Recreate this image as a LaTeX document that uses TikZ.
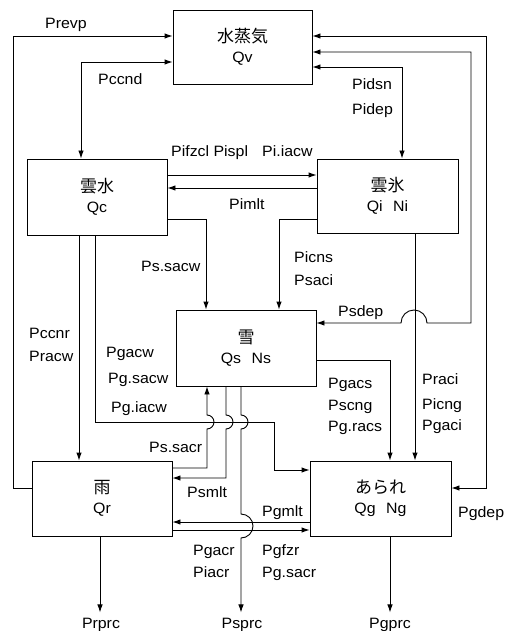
\documentclass[tikz,border=0pt]{standalone}
\usepackage{fontspec}
\setmainfont{Liberation Sans}[FakeStretch=1.06]
\newfontfamily\jp{Noto Sans CJK JP}
\usetikzlibrary{arrows.meta}
\begin{document}
\begin{tikzpicture}[x=1pt,y=-1pt,
  box/.style={draw, line width=0.9pt, inner sep=0pt, align=center, font=\fontsize{15}{20}\selectfont},
  lab/.style={inner sep=1pt, font=\fontsize{15}{18}\selectfont},
  conn/.style={line width=0.9pt},
  arr/.style={conn, -{Latex[length=8pt,width=5.5pt]}},
  darr/.style={conn, {Latex[length=8pt,width=5.5pt]}-{Latex[length=8pt,width=5.5pt]}},
  jpt/.style={}]
\useasboundingbox (0,0) rectangle (508,631);
% boxes
\node[box, minimum width=139pt, minimum height=74pt] (qv) at (242.5,47) {{\jp\fontsize{17}{20}\selectfont 水蒸気}\\Qv};
\node[box, minimum width=140pt, minimum height=76pt] (qc) at (97,197) {{\jp\fontsize{17}{20}\selectfont 雲水}\\Qc};
\node[box, minimum width=141pt, minimum height=74pt] (qi) at (387.5,196) {{\jp\fontsize{17}{20}\selectfont 雲氷}\\Qi\hspace{0.7em}Ni};
\node[box, minimum width=140pt, minimum height=76pt] (qs) at (246,348) {{\jp\fontsize{17}{20}\selectfont 雪}\\Qs\hspace{0.7em}Ns};
\node[box, minimum width=140pt, minimum height=75pt] (qr) at (102,498.5) {{\jp\fontsize{17}{20}\selectfont 雨}\\Qr};
\node[box, minimum width=141pt, minimum height=75pt] (qg) at (380.5,498.5) {{\jp\fontsize{17}{20}\selectfont あられ}\\Qg\hspace{0.7em}Ng};
% labels
\node[lab, anchor=base west] (lprevp) at (44,29) {Prevp};
\node[lab, anchor=base west] (lpccnd) at (97,85) {Pccnd};
\node[lab, anchor=base west] (lpidsn) at (351,90) {Pidsn};
\node[lab, anchor=base west] (lpidep) at (351,115) {Pidep};
\node[lab, anchor=base west] (lpifzc) at (170,157) {Pifzcl Pispl};
\node[lab, anchor=base west] (lpiiacw) at (261,157) {Pi.iacw};
\node[lab, anchor=base west] (lpimlt) at (228,209) {Pimlt};
\node[lab, anchor=base west] (lpssacw) at (140,271) {Ps.sacw};
\node[lab, anchor=base west] (lpicns) at (293,262) {Picns};
\node[lab, anchor=base west] (lpsaci) at (293,285) {Psaci};
\node[lab, anchor=base west] (lpsdep) at (337,316) {Psdep};
\node[lab, anchor=base west] (lpccnr) at (28,338) {Pccnr};
\node[lab, anchor=base west] (lpracw) at (28,361) {Pracw};
\node[lab, anchor=base west] (lpgacw) at (105,357) {Pgacw};
\node[lab, anchor=base west] (lpgsacw) at (107,383) {Pg.sacw};
\node[lab, anchor=base west] (lpgiacw) at (110,412) {Pg.iacw};
\node[lab, anchor=base west] (lpgacs) at (327,388) {Pgacs};
\node[lab, anchor=base west] (lpscng) at (327,410) {Pscng};
\node[lab, anchor=base west] (lpgracs) at (327,431) {Pg.racs};
\node[lab, anchor=base west] (lpraci) at (421,384) {Praci};
\node[lab, anchor=base west] (lpicng) at (421,409) {Picng};
\node[lab, anchor=base west] (lpgaci) at (421,430) {Pgaci};
\node[lab, anchor=base west] (lpssacr) at (148,452) {Ps.sacr};
\node[lab, anchor=base west] (lpsmlt) at (186,497) {Psmlt};
\node[lab, anchor=base west] (lpgmlt) at (261,516) {Pgmlt};
\node[lab, anchor=base west] (lpgdep) at (457,517) {Pgdep};
\node[lab, anchor=base west] (lpgacr) at (192,555) {Pgacr};
\node[lab, anchor=base west] (lpiacr) at (192,577) {Piacr};
\node[lab, anchor=base west] (lpgfzr) at (261,555) {Pgfzr};
\node[lab, anchor=base west] (lpgsacr) at (261,577) {Pg.sacr};
\node[lab, anchor=base] (lprprc) at (101,628) {Prprc};
\node[lab, anchor=base] (lpsprc) at (242,628) {Psprc};
\node[lab, anchor=base] (lpgprc) at (390,628) {Pgprc};
% connectors: vapour
\draw[arr] (qr.west |- 0,488) -- (13,488) -- (13,36) -- (qv.west |- 0,36);
\draw[darr] (qv.west |- 0,62) -- (81,62) -- (qc.north -| 81,0);
\draw[darr] (qv.east |- 0,67) -- (402,67) -- (qi.north -| 402,0);
\draw[darr] (qv.east |- 0,52) -- (471,52) -- (471,323) -- (427,323) arc[start angle=0,end angle=180,radius=13pt] -- (qs.east |- 0,323);
\draw[darr] (qv.east |- 0,36) -- (486,36) -- (486,488) -- (qg.east |- 0,488);
% cloud water / ice
\draw[arr] (qc.east |- 0,175) -- (qi.west |- 0,175);
\draw[arr] (qi.west |- 0,188) -- (qc.east |- 0,188);
\draw[arr] (qc.east |- 0,219) -- (206,219) -- (qs.north -| 206,0);
\draw[arr] (qi.west |- 0,219) -- (279,219) -- (qs.north -| 279,0);
\draw[arr] (qi.south -| 415,0) -- (qg.north -| 415,0);
\draw[arr] (qs.east |- 0,360) -- (390,360) -- (qg.north -| 390,0);
\draw[arr] (qc.south -| 79,0) -- (qr.north -| 79,0);
\draw[arr] (qc.south -| 95,0) -- (95,422) -- (274,422) -- (274,470) -- (qg.west |- 0,470);
% snow / rain / graupel
\draw[arr] (qr.east |- 0,468) -- (207,468) -- (207,429) arc[start angle=-90,end angle=90,radius=7pt] -- (qs.south -| 207,0);
\draw[arr] (qs.south -| 226,0) -- (226,415) arc[start angle=90,end angle=-90,radius=7pt] -- (226,478) -- (qr.east |- 0,478);
\draw[arr, shorten >=4pt] (qs.south -| 241,0) -- (241,415) arc[start angle=90,end angle=-90,radius=7pt] -- (241,514) arc[start angle=90,end angle=-90,radius=12pt] -- (lpsprc.north -| 241,0);
\draw[arr] (qg.west |- 0,522) -- (qr.east |- 0,522);
\draw[arr] (qr.east |- 0,530) -- (qg.west |- 0,530);
\draw[arr, shorten >=4pt] (qr.south -| 100,0) -- (lprprc.north -| 100,0);
\draw[arr, shorten >=4pt] (qg.south -| 390,0) -- (lpgprc.north -| 390,0);
\end{tikzpicture}
\end{document}
